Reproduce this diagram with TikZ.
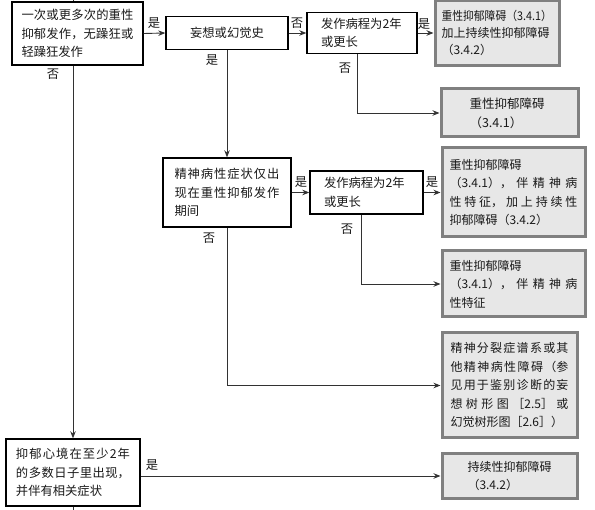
\documentclass[tikz,border=0pt]{standalone}
\usepackage{fontspec}
\usepackage{graphicx}
\setmainfont{Noto Sans CJK SC}
\XeTeXlinebreaklocale "zh"
\XeTeXlinebreakskip=0pt plus 6pt
\usetikzlibrary{arrows.meta}
\definecolor{bordgray}{RGB}{128,128,128}
\definecolor{fillgray}{RGB}{231,231,231}
\definecolor{linegray}{RGB}{50,50,50}
\begin{document}
\begin{tikzpicture}[x=1pt,y=-1pt,
  every node/.style={text=black!90},
  qbox/.style={draw=black, line width=1.4pt, fill=white, inner ysep=0pt, align=justify, font=\fontsize{12.3}{18.5}\selectfont},
  dbox/.style={draw=bordgray, line width=3pt, fill=fillgray, inner ysep=0pt, align=justify, font=\fontsize{12}{18.5}\selectfont},
  conn/.style={draw=linegray, line width=0.9pt},
  arr/.style={conn, -{Stealth[length=7pt,width=5.5pt]}},
  lbl/.style={inner sep=0pt, font=\fontsize{12.3}{14}\selectfont}]
\useasboundingbox (0,0) rectangle (595,510);
% decision boxes
\node[qbox, text width=112pt, inner xsep=9.5pt, minimum height=63pt] (A) at (77.5,33.5) {一次或更多次的重性\linebreak 抑郁发作，无躁狂或\linebreak 轻躁狂发作};
\node[qbox, align=center, minimum width=122pt, minimum height=33pt] (B) at (227,33) {妄想或幻觉史};
\node[qbox, text width=82pt, inner xsep=14pt, minimum height=41pt] (C) at (362,33) {发作病程为2年\\或更长};
\node[qbox, text width=105pt, inner xsep=11.5pt, minimum height=69pt] (D) at (227,192.5) {精神病性症状仅出\linebreak 现在重性抑郁发作\linebreak 期间};
\node[qbox, text width=85pt, inner xsep=14pt, minimum height=43pt] (F) at (366.5,192.5) {发作病程为2年\\或更长};
\node[qbox, text width=114pt, inner xsep=10pt, minimum height=67pt] (I) at (73,472.5) {抑郁心境在至少2年\linebreak 的多数日子里出现，\linebreak 并伴有相关症状};
% diagnosis boxes
\node[dbox, text width=111pt, inner xsep=6.5pt, minimum height=65pt, font=\fontsize{12}{17}\selectfont] (E1) at (497,33) {\scalebox{0.9}[1]{重性抑郁障碍（3.4.1）}\\加上持续性抑郁障碍\\（3.4.2）};
\node[dbox, align=left, text width=80pt, inner xsep=28.5pt, minimum height=48pt, font=\fontsize{12.5}{19}\selectfont] (E2) at (509.5,113) {重性抑郁障碍\\（3.4.1）};
\node[dbox, text width=128pt, inner xsep=7.5pt, minimum height=89pt] (G1) at (513.5,192.5) {重性抑郁障碍\\（3.4.1），伴精神病\linebreak 性特征，加上持续性\linebreak 抑郁障碍（3.4.2）};
\node[dbox, text width=128pt, inner xsep=7.5pt, minimum height=66pt] (G2) at (513.5,284) {重性抑郁障碍\\（3.4.1），伴精神病\linebreak 性特征};
\node[dbox, text width=118pt, inner xsep=8.5pt, minimum height=105pt] (H) at (509.5,385.5) {精神分裂症谱系或其\linebreak 他精神病性障碍（参\linebreak 见用于鉴别诊断的妄\linebreak 想树形图［2.5］或\linebreak 幻觉树形图［2.6］）};
\node[dbox, align=left, text width=84pt, inner xsep=25.5pt, minimum height=45pt] (J) at (509.5,476) {持续性抑郁障碍\\（3.4.2）};
% free ends
\coordinate (top) at (73,0);
\coordinate (bot) at (73,510);
% connectors
\draw[conn] (top) -- (top |- A.north);
\draw[arr] (A.east) -- (B.west);
\draw[arr] (B.east) -- (C.west);
\draw[arr] (C.east) -- (E1.west);
\draw[arr] ([xshift=-5pt]C.south) |- (E2.west);
\draw[arr] (B.south) -- (D.north);
\draw[arr] (D.east) -- (F.west);
\draw[arr] (F.east) -- (G1.west);
\draw[arr] ([xshift=-5.5pt]F.south) |- (G2.west);
\draw[arr] (D.south) |- (H.west);
\draw[arr] (A.south -| I.north) -- (I.north);
\draw[arr] (I.east |- J.west) -- (J.west);
\draw[conn] (I.south) -- (bot);
% labels
\node[lbl] (l1) at (154,23) {是};
\node[lbl] (l2) at (53,74) {否};
\node[lbl] (l3) at (297,23) {否};
\node[lbl] (l4) at (424,24) {是};
\node[lbl] (l5) at (212,60) {是};
\node[lbl] (l6) at (345,68) {否};
\node[lbl] (l7) at (301,182) {是};
\node[lbl] (l8) at (432,182) {是};
\node[lbl] (l9) at (209,238) {否};
\node[lbl] (l10) at (347,229) {否};
\node[lbl] (l11) at (152,465) {是};
\end{tikzpicture}
\end{document}
